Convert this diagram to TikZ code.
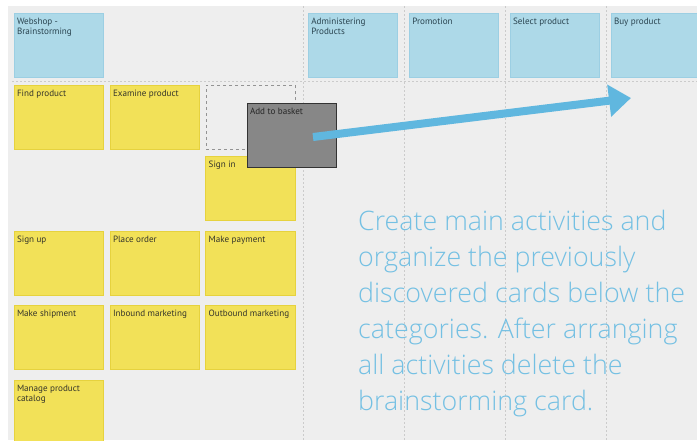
\documentclass[tikz,border=0pt]{standalone}
\usepackage{fontspec}
\setmainfont{PT Sans}
\IfFontExistsTF{Open Sans Light}{\newfontfamily\bigfont{Open Sans Light}}{\newfontfamily\bigfont{Open Sans}}
\usetikzlibrary{arrows.meta}
\definecolor{bg}{HTML}{EEEEEE}
\definecolor{gridc}{HTML}{CBCBCB}
\definecolor{bluefill}{HTML}{ADD9E8}
\definecolor{blueline}{HTML}{9CCFE3}
\definecolor{yelfill}{HTML}{F2E158}
\definecolor{yelline}{HTML}{E6D23E}
\definecolor{grayfill}{HTML}{878787}
\definecolor{grayline}{HTML}{333333}
\definecolor{arrowc}{HTML}{60B7DF}
\definecolor{textblue}{HTML}{74C0E3}
\definecolor{cardtxt}{HTML}{35352A}
\definecolor{bluetxt}{HTML}{2A4450}
\newcommand\cardtext[1]{\parbox[t][58pt][t]{83.5pt}{\raggedright\fontsize{9.1}{10}\selectfont\rule{0pt}{8.3pt}#1}}
\begin{document}
\begin{tikzpicture}[x=1pt,y=-1pt,
  gridline/.style={draw=gridc, line width=0.7pt, dash pattern=on 2pt off 2pt},
  cardbase/.style={anchor=north west, inner sep=3pt, line width=0.8pt, outer sep=0pt},
  bluecard/.style={cardbase, fill=bluefill, draw=blueline, text=bluetxt},
  yelcard/.style={cardbase, fill=yelfill, draw=yelline, text=cardtxt},
  graycard/.style={cardbase, fill=grayfill, draw=grayline, text=black!85},
  placeholder/.style={anchor=north west, draw=gray!85, dashed, line width=0.7pt, minimum width=89pt, minimum height=64pt, inner sep=0pt},
  bigarrow/.style={draw=arrowc, line width=8pt, -{Triangle[width=31pt,length=22pt]}},
  bigtext/.style={text=textblue, inner sep=0pt}
]
\useasboundingbox (0,0) rectangle (697,440);
\fill[white] (0,0) rectangle (697,440);
\fill[bg] (8,6) rectangle (697,440);
% grid
\draw[gridline] (12,81) -- (697,81);
\foreach \gx in {303,404,505,606} {\draw[gridline] (\gx,6) -- (\gx,440);}
% category cards
\node[bluecard] (webshop) at (14,13) {\cardtext{Webshop -\\Brainstorming}};
\node[bluecard] (admin) at (308.3,13) {\cardtext{Administering\\Products}};
\node[bluecard] (promo) at (409.3,13) {\cardtext{Promotion}};
\node[bluecard] (select) at (510,13) {\cardtext{Select product}};
\node[bluecard] (buy) at (611,13) {\cardtext{Buy product}};
% yellow cards
\node[yelcard] (find) at (14,85) {\cardtext{Find product}};
\node[yelcard] (examine) at (110,85) {\cardtext{Examine product}};
\node[placeholder] (ph) at (205.7,85) {};
\node[yelcard] (signin) at (205.7,156) {\cardtext{Sign in}};
\node[yelcard] (signup) at (14,231) {\cardtext{Sign up}};
\node[yelcard] (order) at (110,231) {\cardtext{Place order}};
\node[yelcard] (payment) at (205.7,231) {\cardtext{Make payment}};
\node[yelcard] (shipment) at (14,305) {\cardtext{Make shipment}};
\node[yelcard] (inbound) at (110,305) {\cardtext{Inbound marketing}};
\node[yelcard] (outbound) at (205.7,305) {\cardtext{Outbound marketing}};
\node[yelcard] (catalog) at (14,380) {\cardtext{Manage product\\catalog}};
% dragged card
\node[graycard] (basket) at (247,103.3) {\cardtext{Add to basket}};
% arrow
\coordinate (astart) at (313,137);
\coordinate (aend) at (631,98);
\draw[bigarrow] (astart) -- (aend);
% instruction text
\node[bigtext, anchor=base west] (instr) at (358,230.7) {\parbox[t]{340pt}{\raggedright\bigfont\fontsize{26.8}{35.9}\selectfont
Create main activities and\\
organize the previously\\
discovered cards below the\\
categories. After arranging\\
all activities delete the\\
brainstorming card.}};
\end{tikzpicture}
\end{document}
